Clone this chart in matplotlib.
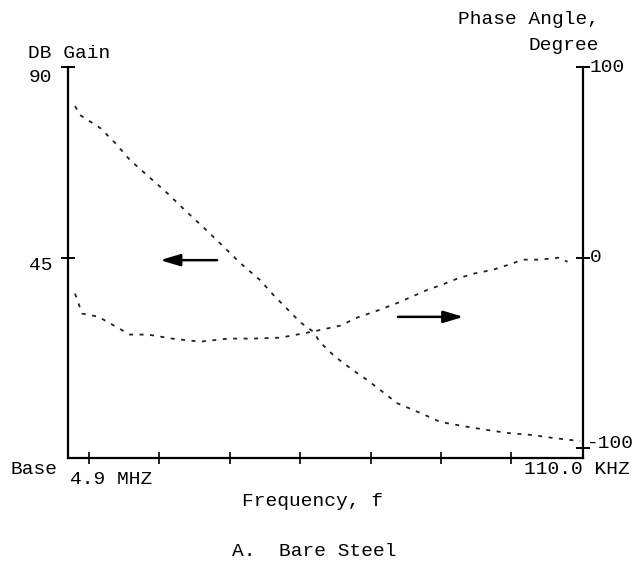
import matplotlib
matplotlib.use("Agg")
import matplotlib.pyplot as plt

# frequency sweep position (tick index 0 = 4.9 MHz ... right end = 110.0 kHz)
gain_x = [-0.20, -0.13, 0.16, 0.37, 0.58, 0.90, 1.11, 1.36, 1.62, 1.86,
          2.15, 2.43, 2.62, 3.00, 3.19, 3.28, 3.50, 3.75, 3.95, 4.14,
          4.38, 4.71, 4.99, 5.32, 5.66, 5.94, 6.31, 6.60, 6.98]
gain_db = [80.8, 78.7, 75.6, 72.1, 68.1, 63.4, 60.3, 56.3, 52.3, 48.5,
           43.8, 39.8, 36.3, 29.9, 27.6, 25.2, 21.7, 18.6, 16.3, 13.9,
           10.8, 8.5, 6.4, 5.4, 4.5, 3.8, 3.3, 2.6, 1.9]

phase_x = [-0.20, -0.10, 0.13, 0.33, 0.58, 0.84, 1.18, 1.58, 1.98, 2.33,
           2.72, 3.10, 3.31, 3.57, 3.81, 4.10, 4.39, 4.59, 4.81, 5.02,
           5.23, 5.46, 5.74, 5.96, 6.17, 6.41, 6.67, 6.80]
phase_deg = [-18.8, -29.3, -30.9, -35.1, -40.3, -40.3, -42.4, -44.0, -42.4, -42.4,
             -41.9, -39.3, -37.7, -35.6, -31.4, -27.7, -23.6, -20.4, -16.8, -14.1,
             -11.0, -8.4, -6.3, -3.7, -1.0, -1.0, 0.0, -2.1]

x_ticks = [0, 1, 2, 3, 4, 5, 6]
gain_ticks = [90, 45]
phase_ticks = [100, 0, -100]

W, H = 635, 564
FONT = "Liberation Mono"


def ftext(px, py, s, ha="left"):
    # place text using pixel position measured on the page
    plt.gcf().text(px / W, 1 - py / H, s, ha=ha, va="center",
                   family=FONT, fontsize=14, color="black")


fig = plt.figure(figsize=(6.35, 5.64), dpi=100)
ax = fig.add_axes([68 / W, 1 - 458 / H, (583 - 68) / W, (458 - 67) / H])
ax.set_xlim(-0.3, 7.02)
ax.set_ylim(-2.1, 90)
ax2 = ax.twinx()
ax2.set_ylim(-105, 100)

for a in (ax, ax2):
    a.spines["top"].set_visible(False)
ax.spines["right"].set_visible(False)
ax2.spines["left"].set_visible(False)
ax2.spines["bottom"].set_visible(False)
for s in ("left", "bottom"):
    ax.spines[s].set_linewidth(1.6)
ax2.spines["right"].set_linewidth(1.6)

ax.set_xticks(x_ticks)
ax.set_xticklabels([])
ax.set_yticks(gain_ticks)
ax.set_yticklabels([])
ax2.set_yticks(phase_ticks)
ax2.set_yticklabels([])
ax.tick_params(axis="x", direction="inout", length=9, width=1.2)
ax.tick_params(axis="y", direction="inout", length=10, width=1.4)
ax2.tick_params(axis="y", direction="inout", length=10, width=1.4)

dots = (0, (2.2, 3.6))
ax.plot(gain_x, gain_db, color="#222222", lw=1.3, linestyle=dots)
ax2.plot(phase_x, phase_deg, color="#222222", lw=1.3, linestyle=dots)

arrow = dict(arrowstyle="-|>,head_length=0.6,head_width=0.18", lw=1.8,
             color="black", mutation_scale=20, shrinkA=0, shrinkB=0)
ax.annotate("", xy=(1.01, 44.5), xytext=(1.82, 44.5), arrowprops=arrow)
ax2.annotate("", xy=(5.32, -31), xytext=(4.39, -31), arrowprops=arrow)

ftext(28, 53, "DB Gain")
ftext(52, 78, "90", ha="right")
ftext(52, 265, "45", ha="right")
ftext(10, 470, "Base")
ftext(599, 20, "Phase Angle,", ha="right")
ftext(599, 45, "Degree", ha="right")
ftext(590, 67, "100")
ftext(590, 258, "0")
ftext(634, 444, "-100", ha="right")
ftext(70, 480, "4.9 MHZ")
ftext(630, 470, "110.0 KHZ", ha="right")
ftext(312, 502, "Frequency, f", ha="center")
ftext(314, 552, "A.  Bare Steel", ha="center")

fig.savefig("out.png", dpi=100)
